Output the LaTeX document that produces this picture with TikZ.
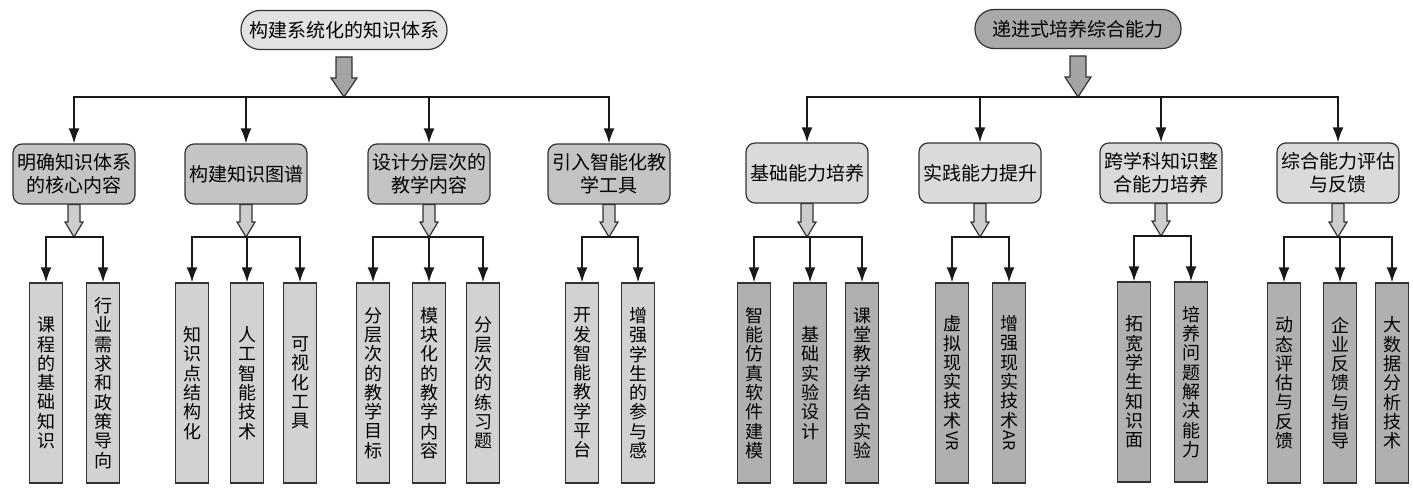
\documentclass[tikz,border=0pt]{standalone}
\usepackage{fontspec}
\setmainfont{Noto Sans CJK SC}
\usepackage{graphicx}
\usetikzlibrary{arrows.meta,calc}
\definecolor{rootA}{HTML}{E2E2E2}
\definecolor{rootB}{HTML}{A9A9A9}
\definecolor{midA}{HTML}{C4C4C4}
\definecolor{midB}{HTML}{DADADA}
\definecolor{leafA}{HTML}{D2D2D2}
\definecolor{leafB}{HTML}{B0B0B0}
\definecolor{fatdark}{HTML}{A4A4A4}
\definecolor{fatlight}{HTML}{CDCDCD}
\tikzset{
  edge/.style={draw=black!80,line width=1.2pt},
  rootbox/.style={edge,rounded corners=19pt,minimum width=206pt,minimum height=39pt,inner sep=0pt,font=\fontsize{19}{23}\selectfont},
  midbox/.style={edge,rounded corners=9pt,minimum width=122pt,minimum height=60pt,inner sep=0pt,align=center,font=\fontsize{19}{23}\selectfont},
  leafbox/.style={edge,minimum width=33pt,minimum height=200pt,inner sep=0pt,align=center,font=\fontsize{18}{19.3}\selectfont},
  link/.style={black!90,line width=1.8pt,line cap=rect},
  linkarrow/.style={link,-{Latex[length=15pt,width=11pt]}},
  bigfat/.style={edge,fill=fatdark},
  smallfat/.style={edge,fill=fatlight}
}
% hollow down arrow: style, top, tip, half shaft, half head, head length
\newcommand\fatarrow[6]{%
  \draw[#1] let \p1=(#2), \p2=(#3) in
    (\x1-#4pt,\y1) -- (\x1-#4pt,\y2+#6pt) -- (\x1-#5pt,\y2+#6pt) -- (\x1,\y2)
    -- (\x1+#5pt,\y2+#6pt) -- (\x1+#4pt,\y2+#6pt) -- (\x1+#4pt,\y1) -- cycle;}
\newcommand\sideways[1]{\rotatebox[origin=c]{-90}{\fontsize{16}{16}\selectfont #1}}
\begin{document}
\begin{tikzpicture}[x=1pt,y=-1pt]
  \useasboundingbox (0,0) rectangle (1413,492);
  % left tree
  \node[rootbox,fill=rootA] (kroot) at (344,30) {构建系统化的知识体系};
  \coordinate (kbar) at (344,97);
  \node[midbox,fill=midA] (k1) at (74,174) {明确知识体系\\的核心内容};
  \node[midbox,fill=midA] (k2) at (246,174) {构建知识图谱};
  \node[midbox,fill=midA] (k3) at (429,174) {设计分层次的\\教学内容};
  \node[midbox,fill=midA] (k4) at (609,174) {引入智能化教\\学工具};
  \fatarrow{bigfat}{[yshift=-7pt]kroot.south}{kbar}{8}{13}{19}
  \draw[link] (k1 |- kbar) -- (k4 |- kbar);
  \draw[linkarrow] (k1 |- kbar) -- (k1);
  \draw[linkarrow] (k2 |- kbar) -- (k2);
  \draw[linkarrow] (k3 |- kbar) -- (k3);
  \draw[linkarrow] (k4 |- kbar) -- (k4);

  \node[leafbox,fill=leafA] (k1a) at (46,383) {课\\程\\的\\基\\础\\知\\识};
  \node[leafbox,fill=leafA] (k1b) at (103,383) {行\\业\\需\\求\\和\\政\\策\\导\\向};
  \node[leafbox,fill=leafA] (k2a) at (192,383) {知\\识\\点\\结\\构\\化};
  \node[leafbox,fill=leafA] (k2b) at (247,383) {人\\工\\智\\能\\技\\术};
  \node[leafbox,fill=leafA] (k2c) at (300,383) {可\\视\\化\\工\\具};
  \node[leafbox,fill=leafA] (k3a) at (373,383) {分\\层\\次\\的\\教\\学\\目\\标};
  \node[leafbox,fill=leafA] (k3b) at (429,383) {模\\块\\化\\的\\教\\学\\内\\容};
  \node[leafbox,fill=leafA] (k3c) at (483,383) {分\\层\\次\\的\\练\\习\\题};
  \node[leafbox,fill=leafA] (k4a) at (582,383) {开\\发\\智\\能\\教\\学\\平\\台};
  \node[leafbox,fill=leafA] (k4b) at (638,383) {增\\强\\学\\生\\的\\参\\与\\感};

  \coordinate (k1bar) at (74,237);
  \coordinate (k2bar) at (246,237);
  \coordinate (k3bar) at (429,237);
  \coordinate (k4bar) at (609,237);
  \fatarrow{smallfat}{k1.south}{k1bar}{6}{9}{15}
  \fatarrow{smallfat}{k2.south}{k2bar}{6}{9}{15}
  \fatarrow{smallfat}{k3.south}{k3bar}{6}{9}{15}
  \fatarrow{smallfat}{k4.south}{k4bar}{6}{9}{15}
  \draw[link] (k1a |- k1bar) -- (k1b |- k1bar);
  \draw[link] (k2a |- k2bar) -- (k2c |- k2bar);
  \draw[link] (k3a |- k3bar) -- (k3c |- k3bar);
  \draw[link] (k4a |- k4bar) -- (k4b |- k4bar);
  \draw[linkarrow] (k1a |- k1bar) -- (k1a);
  \draw[linkarrow] (k1b |- k1bar) -- (k1b);
  \draw[linkarrow] (k2a |- k2bar) -- (k2a);
  \draw[linkarrow] (k2b |- k2bar) -- (k2b);
  \draw[linkarrow] (k2c |- k2bar) -- (k2c);
  \draw[linkarrow] (k3a |- k3bar) -- (k3a);
  \draw[linkarrow] (k3b |- k3bar) -- (k3b);
  \draw[linkarrow] (k3c |- k3bar) -- (k3c);
  \draw[linkarrow] (k4a |- k4bar) -- (k4a);
  \draw[linkarrow] (k4b |- k4bar) -- (k4b);

  % right tree
  \node[rootbox,fill=rootB] (nroot) at (1078,29) {递进式培养综合能力};
  \coordinate (nbar) at (1078,97);
  \node[midbox,fill=midB] (n1) at (807,173) {基础能力培养};
  \node[midbox,fill=midB] (n2) at (980,173) {实践能力提升};
  \node[midbox,fill=midB] (n3) at (1161,173) {跨学科知识整\\合能力培养};
  \node[midbox,fill=midB] (n4) at (1338,173) {综合能力评估\\与反馈};
  \fatarrow{bigfat}{[yshift=-7pt]nroot.south}{nbar}{8}{13}{20}
  \draw[link] (n1 |- nbar) -- (n4 |- nbar);
  \draw[linkarrow] (n1 |- nbar) -- (n1);
  \draw[linkarrow] (n2 |- nbar) -- (n2);
  \draw[linkarrow] (n3 |- nbar) -- (n3);
  \draw[linkarrow] (n4 |- nbar) -- (n4);

  \node[leafbox,fill=leafB] (n1a) at (754,383) {智\\能\\仿\\真\\软\\件\\建\\模};
  \node[leafbox,fill=leafB] (n1b) at (810,383) {基\\础\\实\\验\\设\\计};
  \node[leafbox,fill=leafB] (n1c) at (862,383) {课\\堂\\教\\学\\结\\合\\实\\验};
  \node[leafbox,fill=leafB] (n2a) at (952,383) {虚\\拟\\现\\实\\技\\术\\\sideways{VR}};
  \node[leafbox,fill=leafB] (n2b) at (1009,383) {增\\强\\现\\实\\技\\术\\\sideways{AR}};
  \node[leafbox,fill=leafB] (n3a) at (1134,382) {拓\\宽\\学\\生\\知\\识\\面};
  \node[leafbox,fill=leafB] (n3b) at (1191,382) {培\\养\\问\\题\\解\\决\\能\\力};
  \node[leafbox,fill=leafB] (n4a) at (1284,383) {动\\态\\评\\估\\与\\反\\馈};
  \node[leafbox,fill=leafB] (n4b) at (1340,383) {企\\业\\反\\馈\\与\\指\\导};
  \node[leafbox,fill=leafB] (n4c) at (1392,383) {大\\数\\据\\分\\析\\技\\术};

  \coordinate (n1bar) at (807,237);
  \coordinate (n2bar) at (980,237);
  \coordinate (n3bar) at (1161,236);
  \coordinate (n4bar) at (1338,237);
  \fatarrow{smallfat}{n1.south}{n1bar}{6}{9}{15}
  \fatarrow{smallfat}{n2.south}{n2bar}{6}{9}{15}
  \fatarrow{smallfat}{n3.south}{n3bar}{6}{9}{15}
  \fatarrow{smallfat}{n4.south}{n4bar}{6}{9}{15}
  \draw[link] (n1a |- n1bar) -- (n1c |- n1bar);
  \draw[link] (n2a |- n2bar) -- (n2b |- n2bar);
  \draw[link] (n3a |- n3bar) -- (n3b |- n3bar);
  \draw[link] (n4a |- n4bar) -- (n4c |- n4bar);
  \draw[linkarrow] (n1a |- n1bar) -- (n1a);
  \draw[linkarrow] (n1b |- n1bar) -- (n1b);
  \draw[linkarrow] (n1c |- n1bar) -- (n1c);
  \draw[linkarrow] (n2a |- n2bar) -- (n2a);
  \draw[linkarrow] (n2b |- n2bar) -- (n2b);
  \draw[linkarrow] (n3a |- n3bar) -- (n3a);
  \draw[linkarrow] (n3b |- n3bar) -- (n3b);
  \draw[linkarrow] (n4a |- n4bar) -- (n4a);
  \draw[linkarrow] (n4b |- n4bar) -- (n4b);
  \draw[linkarrow] (n4c |- n4bar) -- (n4c);
\end{tikzpicture}
\end{document}
